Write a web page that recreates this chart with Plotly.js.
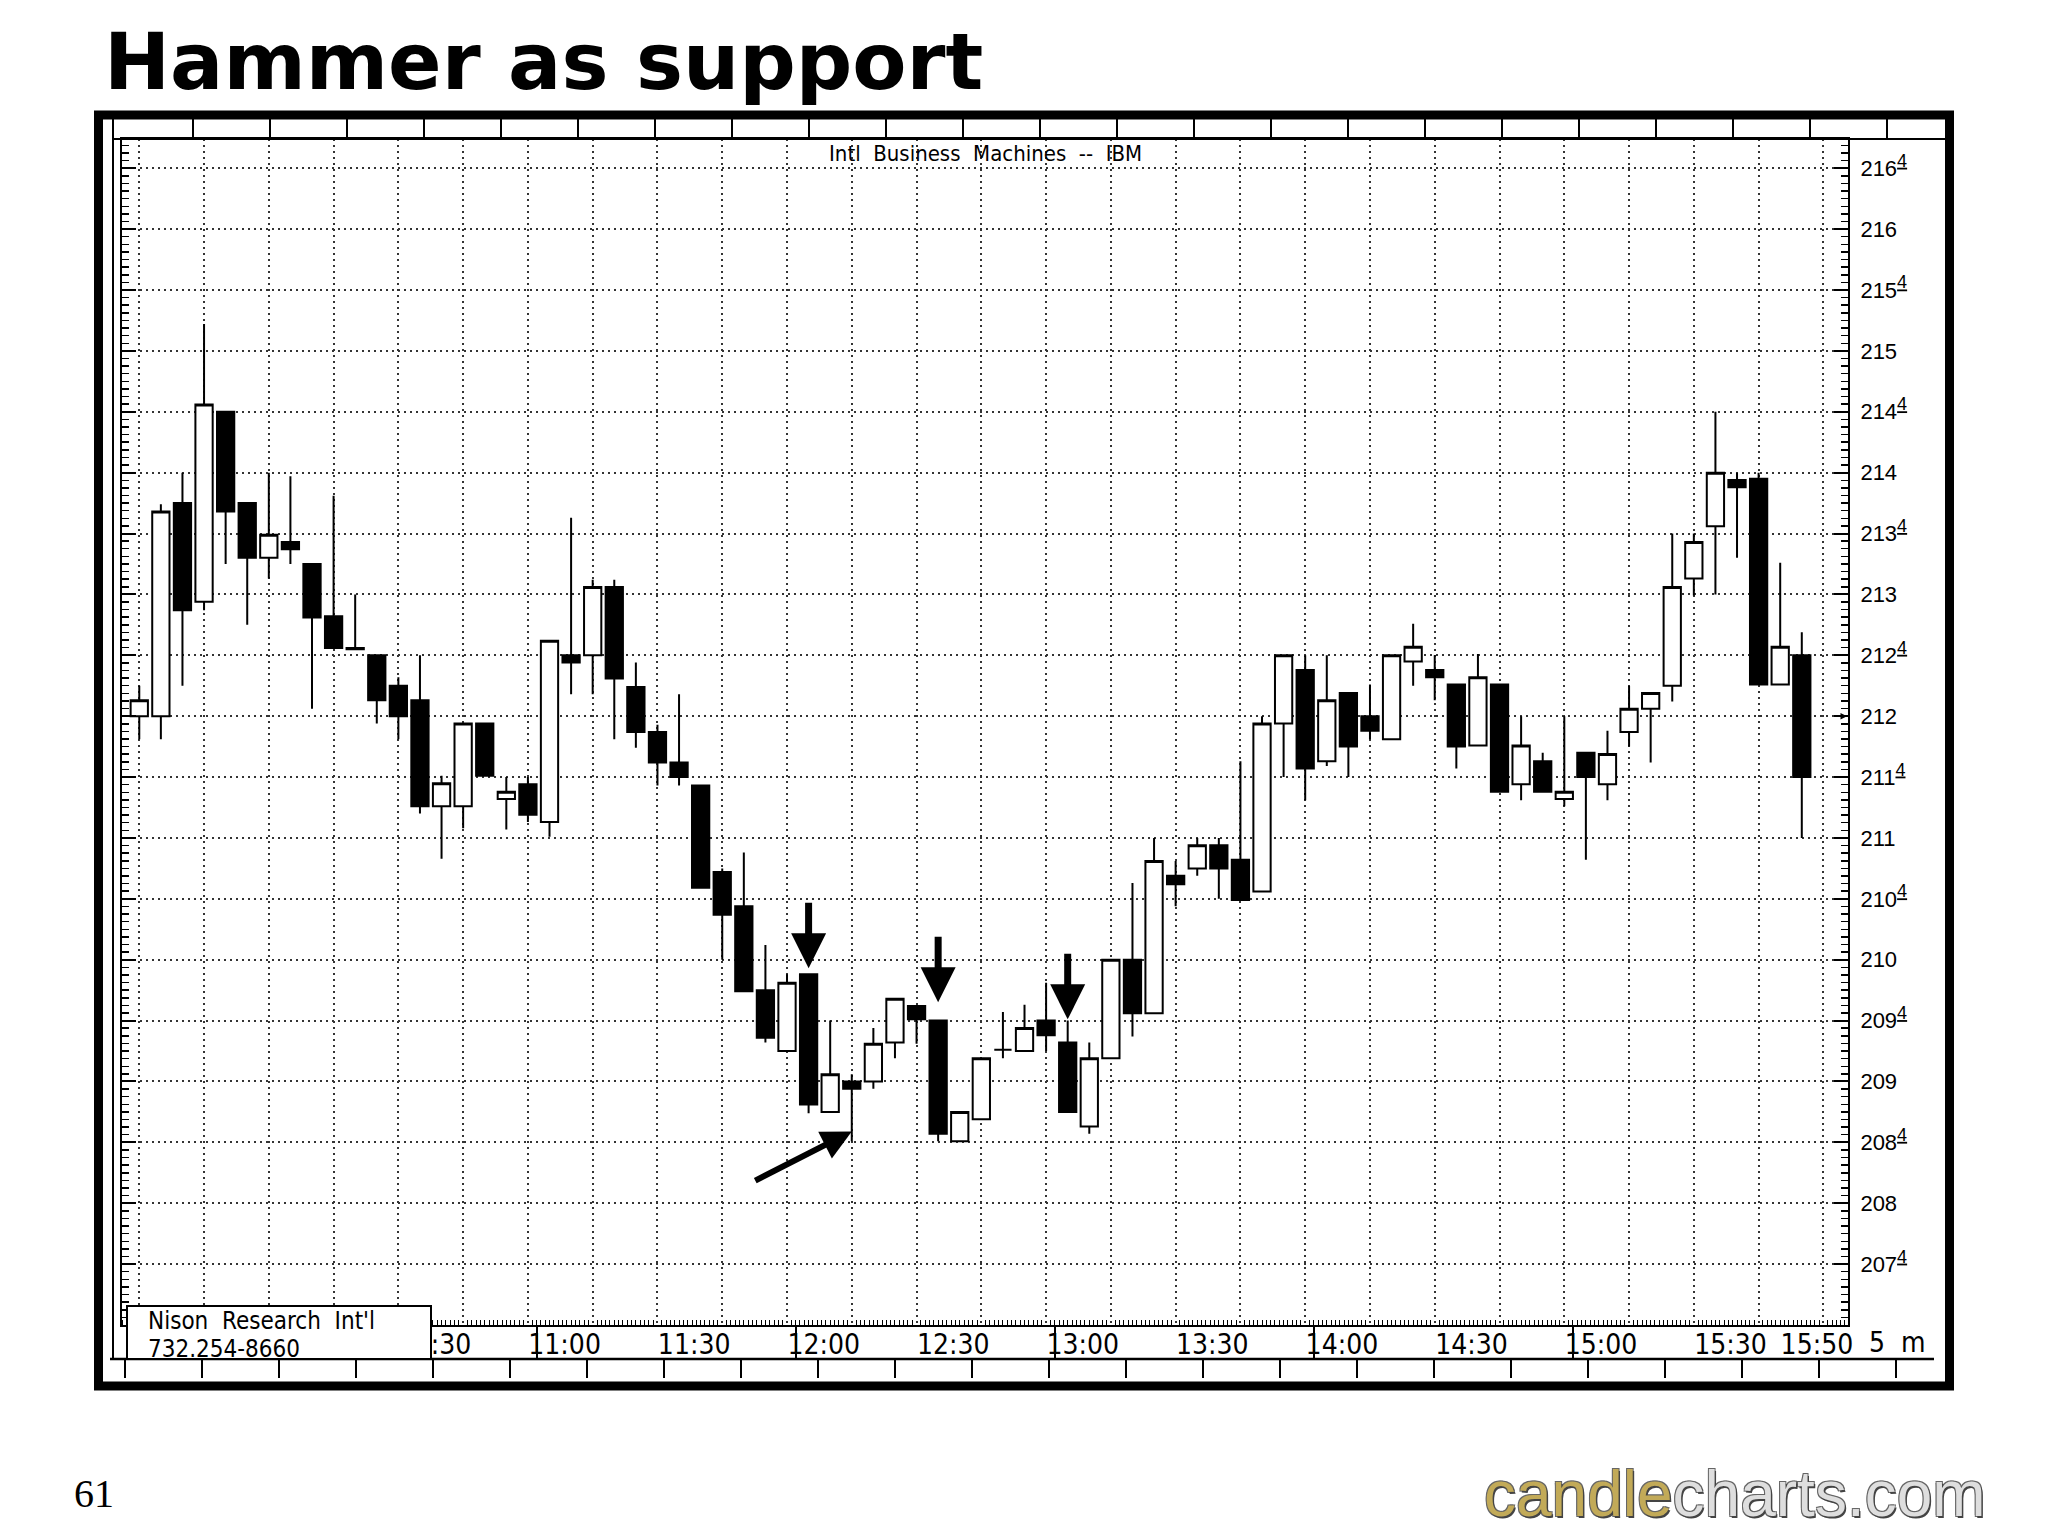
<!DOCTYPE html>
<html>
<head>
<meta charset="utf-8">
<script src="https://cdn.plot.ly/plotly-3.0.1.min.js"></script>
<style>
html,body{margin:0;padding:0;background:#fff;}
#chart{width:2048px;height:1536px;}
</style>
</head>
<body>
<div id="chart"></div>
<script>
// ---------------- data ----------------
const times = ['09:30','09:35','09:40','09:45','09:50','09:55',
 '10:00','10:05','10:10','10:15','10:20','10:25','10:30','10:35','10:40','10:45','10:50','10:55',
 '11:00','11:05','11:10','11:15','11:20','11:25','11:30','11:35','11:40','11:45','11:50','11:55',
 '12:00','12:05','12:10','12:15','12:20','12:25','12:30','12:35','12:40','12:45','12:50','12:55',
 '13:00','13:05','13:10','13:15','13:20','13:25','13:30','13:35','13:40','13:45','13:50','13:55',
 '14:00','14:05','14:10','14:15','14:20','14:25','14:30','14:35','14:40','14:45','14:50','14:55',
 '15:00','15:05','15:10','15:15','15:20','15:25','15:30','15:35','15:40','15:45','15:50','15:55'];

const open = [212.00,212.00,213.75,212.94,214.50,213.75,213.30,213.43,213.25,212.82,
 212.56,212.50,212.25,212.13,211.26,211.26,211.94,211.32,211.44,211.13,
 212.50,212.50,213.06,212.24,211.87,211.62,211.43,210.72,210.44,209.75,
 209.25,209.88,208.75,209.00,209.00,209.32,209.62,209.50,208.51,208.69,
 209.26,209.25,209.50,209.32,208.63,209.19,210.00,209.56,210.69,210.75,
 210.94,210.82,210.56,211.94,212.38,211.63,212.19,212.00,211.81,212.45,
 212.38,212.26,211.76,212.26,211.44,211.63,211.32,211.70,211.44,211.87,
 212.06,212.25,213.13,213.56,213.94,213.95,212.26,212.50];

const high = [212.25,213.74,214.00,215.22,214.50,213.75,214.00,213.97,213.25,213.81,
 213.00,212.50,212.32,212.50,211.51,211.94,211.94,211.50,211.50,212.62,
 213.63,213.12,213.12,212.44,211.93,212.18,211.43,210.75,210.88,210.12,
 209.88,209.88,209.50,209.06,209.44,209.68,209.62,209.50,208.75,209.19,
 209.57,209.63,209.81,209.50,209.32,210.00,210.63,211.00,210.81,211.00,
 211.00,211.63,212.00,212.50,212.50,212.50,212.19,212.26,212.50,212.76,
 212.50,212.26,212.51,212.26,212.00,211.70,212.00,211.70,211.88,212.25,
 212.19,213.50,213.50,214.50,214.00,214.00,213.26,212.69];

const low = [211.81,211.81,212.25,212.87,213.25,212.75,213.13,213.25,212.06,212.56,
 212.55,211.94,211.81,211.20,210.83,211.08,211.51,211.07,211.13,211.01,
 212.18,212.18,211.81,211.74,211.43,211.43,210.59,210.00,209.74,209.32,
 209.25,208.74,208.75,208.51,208.94,209.19,209.31,208.51,208.51,208.69,
 209.19,209.25,209.25,208.75,208.57,209.19,209.37,209.56,210.44,210.69,
 210.50,210.49,210.56,211.50,211.31,211.59,211.50,211.81,211.81,212.25,
 212.13,211.57,211.76,211.38,211.31,211.38,211.26,210.82,211.31,211.75,
 211.62,212.12,212.99,213.00,213.30,212.26,212.26,211.00];

const close = [212.13,213.68,212.87,214.56,213.68,213.30,213.49,213.37,212.81,212.56,
 212.55,212.13,212.00,211.26,211.45,211.94,211.51,211.38,211.19,212.62,
 212.44,213.06,212.31,211.87,211.62,211.50,210.59,210.37,209.74,209.36,
 209.81,208.81,209.06,208.94,209.31,209.68,209.51,208.57,208.75,209.19,
 209.26,209.44,209.38,208.75,209.19,210.00,209.56,210.81,210.62,210.94,
 210.75,210.49,211.94,212.50,211.57,212.13,211.75,211.88,212.50,212.57,
 212.32,211.75,212.32,211.38,211.76,211.38,211.38,211.50,211.69,212.06,
 212.19,213.06,213.43,214.00,213.88,212.26,212.57,211.50];

const priceTicks = [207.5,208,208.5,209,209.5,210,210.5,211,211.5,212,212.5,213,213.5,214,214.5,215,215.5,216,216.5];
const timeLabels = ['10:30','11:00','11:30','12:00','12:30','13:00','13:30','14:00','14:30','15:00','15:30','15:50'];
const hourMarks = ['10:00','11:00','12:00','13:00','14:00','15:00'];

// marked candles (indices into the arrays) and arrow tip prices
const markedBars = [31, 37, 43];
const markedTips = [209.93, 209.65, 209.51];
const hammerBar = 33;
const hammerTip = 208.59;

// ---------------- helpers ----------------
const W = 2048, H = 1536;
const M = {l: 122, r: 200, t: 139, b: 211};
const PW = W - M.l - M.r, PH = H - M.t - M.b;
const px = x => (x - M.l) / PW;
const py = y => (H - M.b - y) / PH;

function toDate(t, addMin) {
  const [h, m] = t.split(':').map(Number);
  const ms = Date.UTC(2000, 0, 3, h, m) + (addMin || 0) * 60000;
  return new Date(ms).toISOString().replace('T', ' ').slice(0, 19);
}
const xs = times.map(t => toDate(t));
const xRange = [toDate(times[0], -4.0), toDate(times[times.length - 1], 10.7)];

const tickText = priceTicks.map(v => Number.isInteger(v)
  ? String(v)
  : Math.floor(v) + '<sup><span style="font-size:18px;text-decoration:underline">4</span></sup>');

const narrow = 'Liberation Sans Narrow, Arial Narrow, DejaVu Sans Condensed, sans-serif';

// ---------------- traces ----------------
const candles = {
  type: 'candlestick',
  x: xs, open: open, high: high, low: low, close: close,
  increasing: {line: {color: '#000', width: 2}, fillcolor: '#ffffff'},
  decreasing: {line: {color: '#000', width: 2}, fillcolor: '#000000'},
  whiskerwidth: 0,
  showlegend: false,
  hoverinfo: 'x+text'
};

// ---------------- shapes ----------------
const shapes = [];
const line = (x0, y0, x1, y1, w) => shapes.push({type: 'line', xref: 'paper', yref: 'paper',
  x0: px(x0), y0: py(y0), x1: px(x1), y1: py(y1), line: {color: '#000', width: w}, layer: 'above'});
// outer thick frame
shapes.push({type: 'rect', xref: 'paper', yref: 'paper', x0: px(98.5), x1: px(1949.5), y0: py(115), y1: py(1386),
  line: {color: '#000', width: 9}, fillcolor: 'rgba(0,0,0,0)', layer: 'above'});
// frame rulers
line(113, 139, 1945, 139, 2);
line(113, 119, 113, 1359, 2);
for (let x = 193; x < 1945; x += 77) line(x, 119, x, 139, 2);
line(110, 1359, 1934, 1359, 2.5);
for (let x = 125; x < 1934; x += 77) line(x, 1359, x, 1378, 2);
// Nison box
shapes.push({type: 'rect', xref: 'paper', yref: 'paper', x0: px(127), x1: px(431), y0: py(1306), y1: py(1359),
  line: {color: '#000', width: 2}, fillcolor: '#ffffff', layer: 'above'});

// ---------------- annotations ----------------
const annotations = [];
markedBars.forEach((b, k) => annotations.push({
  x: xs[b], y: markedTips[k], xref: 'x', yref: 'y', text: '', showarrow: true,
  ax: 0, ay: -67, arrowhead: 2, arrowsize: 1.0, arrowwidth: 7, arrowcolor: '#000', standoff: 0
}));
annotations.push({
  x: xs[hammerBar], y: hammerTip, xref: 'x', yref: 'y', text: '', showarrow: true,
  ax: -98, ay: 50, arrowhead: 2, arrowsize: 1.0, arrowwidth: 6, arrowcolor: '#000', standoff: 0
});
// little marker on the price scale
annotations.push({x: 1, y: 212, xref: 'paper', yref: 'y', text: '', showarrow: true,
  ax: -14, ay: 0, arrowhead: 2, arrowsize: 1, arrowwidth: 1.3, arrowcolor: '#000', standoff: 1});
annotations.push({x: px(985), y: py(153), xref: 'paper', yref: 'paper', showarrow: false,
  text: 'Intl&nbsp; Business&nbsp; Machines&nbsp; --&nbsp; IBM', xanchor: 'center', yanchor: 'middle',
  font: {family: narrow, size: 22, color: '#000'}});
annotations.push({x: px(1897), y: py(1342), xref: 'paper', yref: 'paper', showarrow: false,
  text: '5&nbsp; m', xanchor: 'center', yanchor: 'middle', font: {family: narrow, size: 28, color: '#000'}});
annotations.push({x: px(146), y: py(1321), xref: 'paper', yref: 'paper', showarrow: false,
  text: 'Nison&nbsp; Research&nbsp; Int\'l', xanchor: 'left', yanchor: 'middle',
  font: {family: narrow, size: 24, color: '#000'}});
annotations.push({x: px(146), y: py(1349), xref: 'paper', yref: 'paper', showarrow: false,
  text: '732.254-8660', xanchor: 'left', yanchor: 'middle',
  font: {family: narrow, size: 24, color: '#000'}});
annotations.push({x: px(72), y: py(1493), xref: 'paper', yref: 'paper', showarrow: false,
  text: '61', xanchor: 'left', yanchor: 'middle', font: {family: 'Liberation Serif, Times New Roman, serif', size: 40, color: '#000'}});
annotations.push({x: px(1988), y: py(1494), xref: 'paper', yref: 'paper', showarrow: false,
  text: '<span style="color:#c2aa58">candle</span><span style="color:#dedede">charts.com</span>',
  xanchor: 'right', yanchor: 'middle',
  font: {family: 'Liberation Sans, Arial, sans-serif', size: 64, color: '#ccc',
         shadow: '1.5px 1.5px 0 #444, -1px -1px 0 #666, 1px -1px 0 #666, -1px 1px 0 #666'}});

// ---------------- layout ----------------
const layout = {
  width: W, height: H,
  margin: {l: M.l, r: M.r, t: M.t, b: M.b, pad: 0},
  paper_bgcolor: '#ffffff', plot_bgcolor: '#ffffff',
  showlegend: false,
  boxgap: 0.2, boxgroupgap: 0,
  title: {text: 'Hammer as support', xref: 'container', yref: 'container',
    x: 104 / W, xanchor: 'left', y: 1 - 61 / H, yanchor: 'middle',
    font: {family: 'DejaVu Sans, Verdana, sans-serif', size: 79, weight: 'bold', color: '#000'}},
  xaxis: {
    type: 'date', range: xRange, rangeslider: {visible: false},
    tickmode: 'linear', tick0: toDate('09:30'), dtick: 15 * 60000,
    showticklabels: false, ticks: '',
    showgrid: true, gridcolor: '#333', gridwidth: 2, griddash: '2px,4px',
    showline: true, linecolor: '#000', linewidth: 2, mirror: true, zeroline: false,
    minor: {tickmode: 'linear', tick0: toDate('09:30'), dtick: 60000, ticks: 'inside', ticklen: 5,
            tickwidth: 1, tickcolor: '#000', showgrid: false},
    fixedrange: true
  },
  xaxis2: {
    type: 'date', overlaying: 'x', anchor: 'y', side: 'bottom', range: xRange,
    tickmode: 'array', tickvals: timeLabels.map(t => toDate(t, 8.5)), ticktext: timeLabels,
    ticks: '', showgrid: false, showline: false, zeroline: false,
    tickfont: {family: narrow, size: 28, color: '#000'},
    minor: {tickmode: 'array', tickvals: hourMarks.map(t => toDate(t, 2)), ticks: 'outside', ticklen: 33,
            tickwidth: 2, tickcolor: '#000', showgrid: false},
    fixedrange: true
  },
  yaxis: {
    side: 'right', range: [207.0, 216.74],
    tickmode: 'array', tickvals: priceTicks, ticktext: tickText,
    ticks: 'inside', ticklen: 14, tickwidth: 2, tickcolor: '#000',
    showline: true, linecolor: '#000', linewidth: 2, mirror: 'ticks', zeroline: false,
    showgrid: true, gridcolor: '#333', gridwidth: 2, griddash: '2px,4px',
    minor: {tickmode: 'linear', tick0: 207, dtick: 0.0625, ticks: 'inside', ticklen: 7,
            tickwidth: 1.5, tickcolor: '#000', showgrid: false},
    tickfont: {family: 'Liberation Sans, Arial, sans-serif', size: 22, color: '#000'},
    ticklabelstandoff: 6,
    fixedrange: true
  },
  shapes: shapes,
  annotations: annotations
};

const data = [candles, {type: 'scatter', x: [xs[0]], y: [open[0]], xaxis: 'x2', mode: 'markers',
  marker: {opacity: 0}, hoverinfo: 'skip', showlegend: false}];

Plotly.newPlot('chart', data, layout, {displayModeBar: false, staticPlot: true});
</script>
</body>
</html>
